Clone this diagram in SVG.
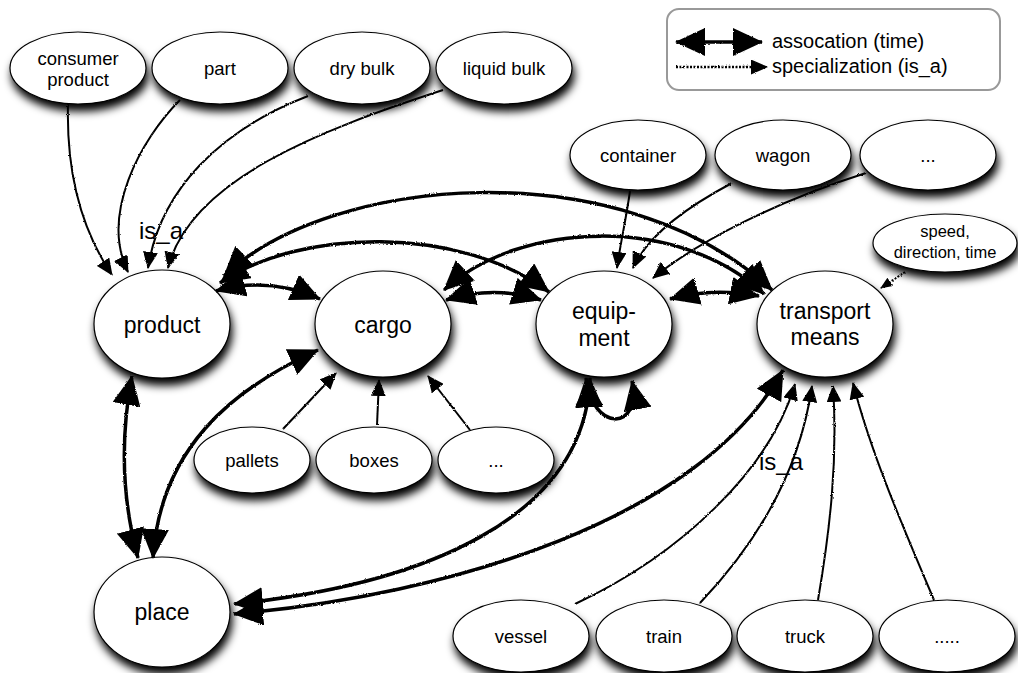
<svg xmlns="http://www.w3.org/2000/svg" width="1018" height="673" viewBox="0 0 1018 673">
<style>
.n ellipse{fill:#fff;stroke:#000;stroke-width:1.2;filter:url(#sh)}
text{font-family:"Liberation Sans",Arial,sans-serif;fill:#000;text-anchor:middle;font-weight:normal}
.big{font-size:23px}
.sm{font-size:18.5px}
.xs{font-size:16.5px}
.lbl{font-size:24px;text-anchor:start}
.leg{font-size:20px;text-anchor:start}
.as{fill:none;stroke:#000;stroke-width:3.5;marker-start:url(#ah);marker-end:url(#ah)}
.sp{fill:none;stroke:#000;stroke-width:2;marker-end:url(#sh2)}
.dt{fill:none;stroke:#000;stroke-width:2;stroke-dasharray:2 1.5;marker-end:url(#sh3)}
</style>
<defs>
<filter id="sh" x="-20%" y="-20%" width="150%" height="170%">
<feGaussianBlur in="SourceAlpha" stdDeviation="4"/>
<feOffset dx="2" dy="7" result="o"/>
<feMerge><feMergeNode in="o"/><feMergeNode in="SourceGraphic"/></feMerge>
</filter>
<filter id="rough" filterUnits="userSpaceOnUse" x="0" y="0" width="1018" height="673">
<feTurbulence type="fractalNoise" baseFrequency="0.9" numOctaves="1" seed="3"/>
<feDisplacementMap in="SourceGraphic" scale="2.5" xChannelSelector="R" yChannelSelector="G"/>
</filter>
<marker id="ah" markerUnits="userSpaceOnUse" markerWidth="30" markerHeight="28" viewBox="0 0 30 28" refX="29" refY="14" orient="auto-start-reverse">
<path d="M0,0 L30,14 L0,28 z" fill="#000"/>
</marker>
<marker id="sh2" markerUnits="userSpaceOnUse" markerWidth="17" markerHeight="15" viewBox="0 0 17 15" refX="16" refY="7.5" orient="auto">
<path d="M0,0 L17,7.5 L0,15 z" fill="#000"/>
</marker>
<marker id="sh3" markerUnits="userSpaceOnUse" markerWidth="12" markerHeight="10" viewBox="0 0 12 10" refX="11" refY="5" orient="auto">
<path d="M0,0 L12,5 L0,10 z" fill="#000"/>
</marker>
</defs>
<rect width="1018" height="673" fill="#fff"/>

<g id="legend">
<rect x="667" y="9" width="333" height="81" rx="12" fill="#fff" stroke="#999" stroke-width="2"/>
<g style="filter:url(#rough)">
<path class="as" d="M676,42 L762,42"/>
<path class="dt" d="M676,67 L767,67" style="marker-end:url(#sh2);stroke-width:2.5"/>
</g>
<text class="leg" x="772" y="48">assocation (time)</text>
<text class="leg" x="772" y="73">specialization (is_a)</text>
</g>

<g id="node-consumer-product" class="n"><ellipse cx="78" cy="68" rx="68" ry="36"/><text class="sm" x="78" y="65">consumer</text><text class="sm" x="78" y="86">product</text></g>
<g id="node-part" class="n"><ellipse cx="220" cy="68" rx="68" ry="36"/><text class="sm" x="220" y="75">part</text></g>
<g id="node-dry-bulk" class="n"><ellipse cx="362" cy="68" rx="68" ry="36"/><text class="sm" x="362" y="75">dry bulk</text></g>
<g id="node-liquid-bulk" class="n"><ellipse cx="504" cy="68" rx="68" ry="36"/><text class="sm" x="504" y="75">liquid bulk</text></g>

<g id="node-container" class="n"><ellipse cx="638" cy="155" rx="68" ry="35"/><text class="sm" x="638" y="162">container</text></g>
<g id="node-wagon" class="n"><ellipse cx="783" cy="155" rx="68" ry="35"/><text class="sm" x="783" y="162">wagon</text></g>
<g id="node-equip-more" class="n"><ellipse cx="928" cy="155" rx="68" ry="35"/><text class="sm" x="928" y="162">...</text></g>
<g id="node-speed" class="n"><ellipse cx="945" cy="243" rx="72" ry="29"/><text class="xs" x="945" y="237">speed,</text><text class="xs" x="945" y="258">direction, time</text></g>

<g id="node-product" class="n"><ellipse cx="162" cy="324" rx="68" ry="54"/><text class="big" x="162" y="333">product</text></g>
<g id="node-cargo" class="n"><ellipse cx="383" cy="324" rx="68" ry="53"/><text class="big" x="383" y="333">cargo</text></g>
<g id="node-equipment" class="n"><ellipse cx="604" cy="324" rx="68" ry="53"/><text class="big" x="604" y="319">equip-</text><text class="big" x="604" y="346">ment</text></g>
<g id="node-transport-means" class="n"><ellipse cx="825" cy="324" rx="68" ry="53"/><text class="big" x="825" y="319">transport</text><text class="big" x="825" y="345">means</text></g>

<g id="node-pallets" class="n"><ellipse cx="252" cy="460" rx="58" ry="33"/><text class="sm" x="252" y="467">pallets</text></g>
<g id="node-boxes" class="n"><ellipse cx="374" cy="460" rx="58" ry="33"/><text class="sm" x="374" y="467">boxes</text></g>
<g id="node-cargo-more" class="n"><ellipse cx="496" cy="460" rx="58" ry="33"/><text class="sm" x="496" y="467">...</text></g>

<g id="node-place" class="n"><ellipse cx="162" cy="612" rx="68" ry="55"/><text class="big" x="162" y="620">place</text></g>

<g id="node-vessel" class="n"><ellipse cx="521" cy="636" rx="68" ry="36"/><text class="sm" x="521" y="643">vessel</text></g>
<g id="node-train" class="n"><ellipse cx="664" cy="636" rx="68" ry="36"/><text class="sm" x="664" y="643">train</text></g>
<g id="node-truck" class="n"><ellipse cx="805" cy="636" rx="68" ry="36"/><text class="sm" x="805" y="643">truck</text></g>
<g id="node-transport-more" class="n"><ellipse cx="947" cy="636" rx="68" ry="36"/><text class="sm" x="947" y="643">.....</text></g>

<g id="connectors" style="filter:url(#rough)">
<path class="sp" d="M68,104 C66,180 85,235 112,275"/>
<path class="sp" d="M180,100 C140,140 100,215 128,272"/>
<path class="sp" d="M308,96 C220,130 160,190 148,268"/>
<path class="sp" d="M443,90 C320,130 190,180 168,268"/>
<path class="sp" d="M630,191 C626,220 620,245 617,268"/>
<path class="sp" d="M732,183 C700,200 650,230 633,268"/>
<path class="sp" d="M866,173 C780,200 700,240 653,278"/>
<path class="sp" d="M283,429 L336,373"/>
<path class="sp" d="M377,425 L379,380"/>
<path class="sp" d="M470,430 L428,376"/>
<path class="sp" d="M575,604 C680,555 770,470 795,384"/>
<path class="sp" d="M700,603 C760,540 800,470 812,386"/>
<path class="sp" d="M818,600 C830,530 838,460 833,386"/>
<path class="sp" d="M934,600 C900,520 870,450 853,383"/>
<path class="dt" d="M905,272 L881,288"/>
<path class="as" d="M216,291 Q268,276 320,299"/>
<path class="as" d="M220,283 C300,228 460,225 549,292"/>
<path class="as" d="M224,276 C330,175 620,150 772,290"/>
<path class="as" d="M446,300 Q494,285 541,300"/>
<path class="as" d="M444,290 C520,220 680,215 764,294"/>
<path class="as" d="M670,299 Q712,287 759,296"/>
<path class="as" d="M586,378 C592,432 642,432 632,381"/>
<path class="as" d="M132,376 Q114,470 138,558"/>
<path class="as" d="M318,350 C230,390 160,450 153,558"/>
<path class="as" d="M234,604 C420,585 585,520 590,378"/>
<path class="as" d="M234,614 C450,595 700,520 783,370"/>
</g>

<text class="lbl" x="139" y="239">is_a</text>
<text class="lbl" x="759" y="470">is_a</text>
</svg>
